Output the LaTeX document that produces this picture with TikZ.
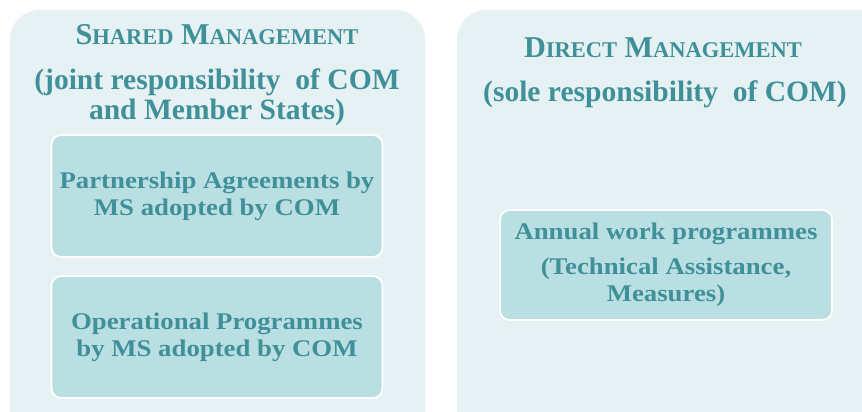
\documentclass[tikz,border=0pt]{standalone}
\usepackage{fontspec}
\setmainfont{Liberation Serif}
\usetikzlibrary{positioning}
\definecolor{paleteal}{HTML}{E6F1F3}
\definecolor{boxteal}{HTML}{BADFE3}
\definecolor{textteal}{HTML}{3F9099}
% small caps by hand, the font has none
\newcommand{\fakesc}[2]{#1{\fontsize{16}{18}\selectfont #2}}
\tikzset{
	panel/.style={fill=paleteal,rounded corners=21pt},
	subbox/.style={fill=boxteal,draw=white,line width=1.2pt,rounded corners=7pt,
		minimum width=8.275cm,minimum height=3.05cm,align=center,text=textteal,
		font=\bfseries\fontsize{17}{19.5}\selectfont\addfontfeature{FakeStretch=1.12}},
	heading/.style={text=textteal,font=\bfseries\fontsize{21.5}{24}\selectfont},
	subheading/.style={text=textteal,align=center,font=\bfseries\fontsize{21}{21.3}\selectfont}
}

\begin{document}
\begin{tikzpicture}[x=0.025cm,y=-0.025cm]
		
		\useasboundingbox (0,0) rectangle (862,412);
		\clip (0,0) rectangle (862,412);
		
		% the two panels
		\fill[panel]
		(10,10) rectangle (425,450);
		
		\fill[panel]
		(457,10) rectangle (900,450);
		
		% shared management
		\node[heading,anchor=base] (sharedtitle)
		at (217,45)
		{\fakesc{S}{HARED} \fakesc{M}{ANAGEMENT}};
		
		\node[subheading] (sharedsub)
		at (217,97)
		{(joint responsibility \ of COM\\and Member States)};
		
		\node[subbox] (partner)
		at (217,196)
		{Partnership Agreements by\\MS adopted by COM};
		
		\node[subbox] (operational)
		at (217,337)
		{Operational Programmes\\by MS adopted by COM};
		
		% direct management
		\node[heading,anchor=base] (directtitle)
		at (663,58)
		{\fakesc{D}{IRECT} \fakesc{M}{ANAGEMENT}};
		
		\node[subheading,anchor=base] (directsub)
		at (665,102)
		{(sole responsibility \ of COM)};
		
		\node[subbox,minimum width=8.3cm,minimum height=2.75cm] (annual)
		at (666,265)
		{Annual work programmes\\[5pt](Technical Assistance,\\Measures)};
		
	\end{tikzpicture}
\end{document}
